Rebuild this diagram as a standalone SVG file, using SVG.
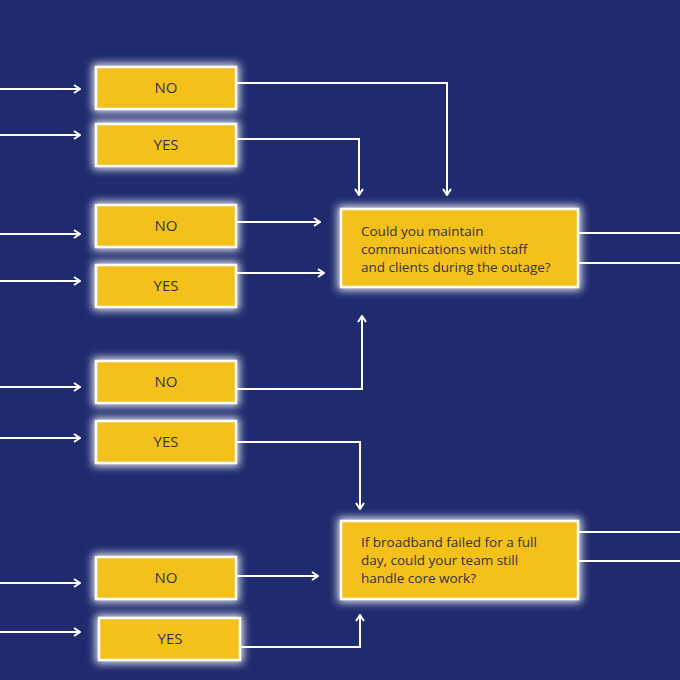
<svg xmlns="http://www.w3.org/2000/svg" width="680" height="680" viewBox="0 0 680 680">
<defs>
<style>
.box{fill:#f4c01e;stroke:#ffffff;stroke-width:2.5;filter:url(#glow)}
.lbl{font-family:"Open Sans","Liberation Sans",sans-serif;font-size:15px;fill:#33334a;text-anchor:middle}
.q{font-family:"Open Sans","Liberation Sans",sans-serif;font-size:13.5px;fill:#33334a}
.c{fill:none;stroke:#ffffff;stroke-width:2;marker-end:url(#ah)}
.cn{fill:none;stroke:#ffffff;stroke-width:2}
</style>
<filter id="glow" x="-30%" y="-50%" width="160%" height="200%">
<feMorphology in="SourceAlpha" operator="dilate" radius="2" result="d"/>
<feGaussianBlur in="d" stdDeviation="4" result="b"/>
<feFlood flood-color="#ffffff" flood-opacity="0.9"/>
<feComposite in2="b" operator="in" result="g"/>
<feMerge><feMergeNode in="g"/><feMergeNode in="SourceGraphic"/></feMerge>
</filter>
<marker id="ah" viewBox="0 0 10 10" refX="9" refY="5" markerWidth="10" markerHeight="10" markerUnits="userSpaceOnUse" orient="auto">
<path d="M3,1 L9,5 L3,9" fill="none" stroke="#ffffff" stroke-width="2"/>
</marker>
</defs>
<rect width="680" height="680" fill="#1f2b6e"/>
<g id="connectors">
<path class="c" d="M0,89 H80"/>
<path class="c" d="M0,135 H80"/>
<path class="c" d="M0,234 H80"/>
<path class="c" d="M0,281 H80"/>
<path class="c" d="M0,387 H80"/>
<path class="c" d="M0,438 H80"/>
<path class="c" d="M0,583 H80"/>
<path class="c" d="M0,632 H80"/>
<path class="c" d="M236,83 H447 V195"/>
<path class="c" d="M236,139 H359 V195"/>
<path class="c" d="M236,222 H320"/>
<path class="c" d="M236,273 H324"/>
<path class="c" d="M236,389 H362 V316"/>
<path class="c" d="M236,442 H360 V509"/>
<path class="c" d="M236,576 H318"/>
<path class="c" d="M241,647 H360 V615"/>
<path class="cn" d="M578,233 H680"/>
<path class="cn" d="M578,263 H680"/>
<path class="cn" d="M578,532 H680"/>
<path class="cn" d="M578,561 H680"/>
</g>
<g id="no1"><rect class="box" x="96" y="67" width="140" height="42"/><text class="lbl" x="166" y="93">NO</text></g>
<g id="yes1"><rect class="box" x="96" y="124" width="140" height="42"/><text class="lbl" x="166" y="150">YES</text></g>
<g id="no2"><rect class="box" x="96" y="205" width="140" height="42"/><text class="lbl" x="166" y="231">NO</text></g>
<g id="yes2"><rect class="box" x="96" y="265" width="140" height="42"/><text class="lbl" x="166" y="291">YES</text></g>
<g id="no3"><rect class="box" x="96" y="361" width="140" height="42"/><text class="lbl" x="166" y="387">NO</text></g>
<g id="yes3"><rect class="box" x="96" y="421" width="140" height="42"/><text class="lbl" x="166" y="447">YES</text></g>
<g id="no4"><rect class="box" x="96" y="557" width="140" height="42"/><text class="lbl" x="166" y="583">NO</text></g>
<g id="yes4"><rect class="box" x="99" y="618" width="141" height="42"/><text class="lbl" x="170" y="644">YES</text></g>
<g id="q1"><rect class="box" x="341" y="209" width="237" height="78"/>
<text class="q" x="361" y="236">Could you maintain</text>
<text class="q" x="361" y="254">communications with staff</text>
<text class="q" x="361" y="272">and clients during the outage?</text></g>
<g id="q2"><rect class="box" x="341" y="521" width="237" height="78"/>
<text class="q" x="361" y="547">If broadband failed for a full</text>
<text class="q" x="361" y="565">day, could your team still</text>
<text class="q" x="361" y="583">handle core work?</text></g>
</svg>
